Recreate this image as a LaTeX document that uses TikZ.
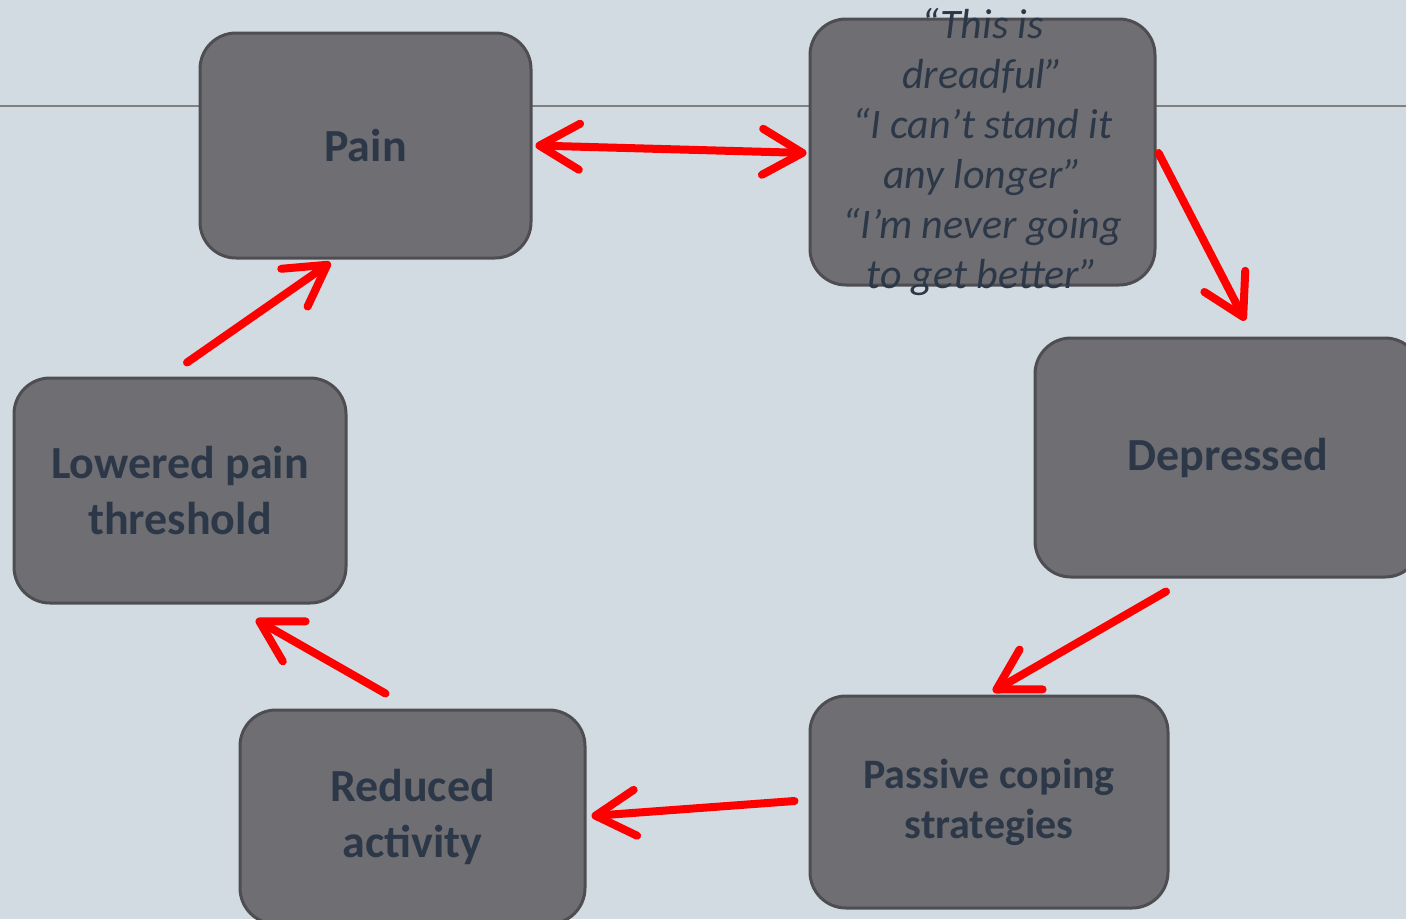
\documentclass[tikz,border=0pt]{standalone}
\usepackage{fontspec}
\setmainfont{Carlito}
\usetikzlibrary{arrows.meta,calc}
\definecolor{bg}{RGB}{211,219,226}
\definecolor{boxfill}{RGB}{111,110,115}
\definecolor{boxline}{RGB}{78,78,82}
\definecolor{txt}{RGB}{44,56,72}
\definecolor{hl}{RGB}{128,128,128}
\begin{document}
\begin{tikzpicture}[x=1pt,y=-1pt,
  box/.style={draw=boxline, line width=3pt, fill=boxfill, rounded corners=36pt,
    text=txt, font=\bfseries\fontsize{46}{56}\selectfont, align=center, inner sep=0pt},
  quotebox/.style={box, inner ysep=-30pt, font=\itshape\fontsize{42}{50}\selectfont},
  conn/.style={draw=red, line width=8pt, line cap=round},
  >={Straight Barb[length=40pt,width=46pt,round]},
  hline/.style={draw=hl, line width=1.5pt}
]
\useasboundingbox (0,0) rectangle (1406,919);
\clip (0,0) rectangle (1406,919);
\fill[bg] (0,0) rectangle (1406,919);
\draw[hline] (0,106) -- (1406,106);

\node[box, minimum width=331pt, minimum height=225pt] (pain) at (365.5,145.5) {Pain};
\node[quotebox, minimum width=345pt, minimum height=266pt] (quote) at (982.5,152) {“This is\\dreadful”\\“I can’t stand it\\any longer”\\“I’m never going\\to get better”};
\node[box, minimum width=386pt, minimum height=239pt] (dep) at (1228,457.5) {Depressed};
\node[box, minimum width=358pt, minimum height=212pt, font=\bfseries\fontsize{42}{50}\selectfont] (pass) at (989,802) {Passive coping\\strategies};
\node[box, minimum width=345pt, minimum height=214pt] (red) at (412.5,817) {Reduced\\activity};
\node[box, minimum width=332pt, minimum height=225pt] (low) at (180,490.5) {Lowered pain\\threshold};

\draw[conn,<->] ($(pain.east)+(3,0)$) -- ($(quote.west)+(-2,1)$);
\draw[conn,->] ($(quote.east)+(2,1)$) -- ($(dep.north)+(17,-16)$);
\draw[conn,->] ($(dep.south)+(-62,13)$) -- ($(pass.north)+(4,-3)$);
\draw[conn,->] ($(pass.west)+(-14,-1)$) -- ($(red.east)+(5,-1)$);
\draw[conn,->] ($(red.north)+(-27,-15)$) -- ($(low.south)+(76,15)$);
\draw[conn,->] ($(low.north)+(7,-14)$) -- ($(pain.south)+(-35,3)$);
\end{tikzpicture}
\end{document}
